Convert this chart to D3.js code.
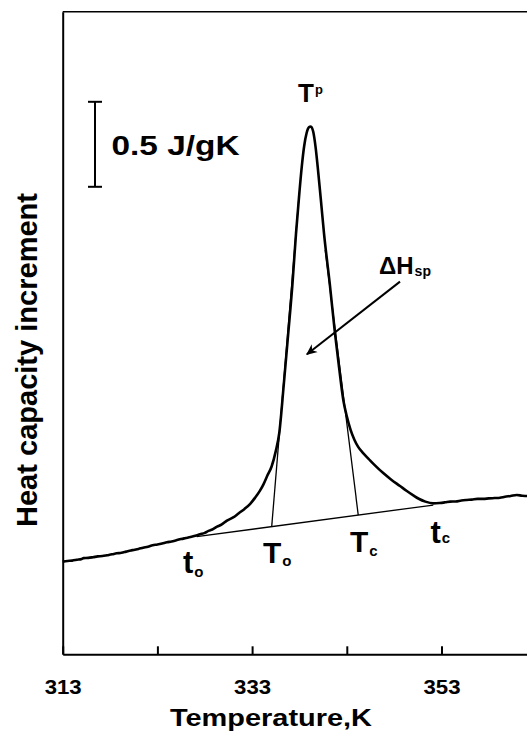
<!DOCTYPE html>
<html>
<head>
<meta charset="utf-8">
<script src="https://cdn.jsdelivr.net/npm/d3@7"></script>
<style>
  html, body { margin: 0; padding: 0; background: #fff; }
  svg { display: block; }
  text { font-family: "Liberation Sans", Arial, Helvetica, sans-serif; font-weight: bold; fill: #000; }
</style>
</head>
<body>
<div id="chart"></div>
<script>
// DSC trace: heat capacity increment (J/gK) versus temperature (K)
const temperature = [
  313.0, 313.5, 314.0, 314.5, 315.0, 315.2, 315.7, 316.2, 316.7, 317.2,
  317.7, 318.2, 318.7, 319.2, 319.7, 320.2, 320.5, 321.0, 321.5, 322.0,
  322.5, 323.0, 323.5, 324.0, 324.5, 325.0, 325.5, 326.0, 326.5, 327.0,
  327.5, 328.0, 328.4, 328.8, 329.3, 329.8, 330.3, 331.0, 331.6, 332.2,
  332.8, 333.3, 333.8, 334.2, 334.6, 335.07, 335.5, 335.87, 336.35, 336.82,
  337.25, 337.64, 338.0, 338.24, 338.5, 338.75, 339.0, 339.2, 339.45, 339.7,
  339.93, 340.25, 340.59, 341.2, 341.75, 342.2, 342.63, 343.0, 343.4, 343.8,
  344.2, 344.7, 345.3, 346.0, 346.85, 347.7, 348.62, 349.3, 350.02, 350.6,
  351.3, 352.13, 352.8, 353.4, 353.9, 354.5, 355.1, 355.66, 356.2, 356.8,
  357.41, 358.0, 358.6, 359.18, 359.7, 360.3, 360.94, 361.5, 362.0, 362.6
];
const heatCapacity = [
  0.545, 0.549, 0.551, 0.556, 0.561, 0.566, 0.567, 0.571, 0.576, 0.578,
  0.583, 0.588, 0.594, 0.597, 0.604, 0.611, 0.614, 0.620, 0.627, 0.633,
  0.641, 0.646, 0.652, 0.659, 0.664, 0.671, 0.678, 0.684, 0.690, 0.697,
  0.706, 0.714, 0.726, 0.734, 0.751, 0.764, 0.785, 0.805, 0.830, 0.855,
  0.885, 0.920, 0.960, 1.000, 1.050, 1.106, 1.195, 1.302, 1.590, 1.890,
  2.170, 2.478, 2.720, 2.866, 2.990, 3.065, 3.100, 3.105, 3.075, 2.985,
  2.866, 2.680, 2.478, 2.180, 1.890, 1.680, 1.496, 1.400, 1.320, 1.262,
  1.220, 1.185, 1.150, 1.110, 1.066, 1.027, 0.990, 0.962, 0.935, 0.915,
  0.898, 0.888, 0.890, 0.894, 0.898, 0.899, 0.905, 0.908, 0.910, 0.914,
  0.914, 0.917, 0.919, 0.921, 0.927, 0.931, 0.937, 0.933, 0.931, 0.934
];

// Interpolated baseline between the onset (t_o) and completion (t_c) points
const baselineT = [327.15, 352.13];
const baselineV = [0.692, 0.878];
// Inflection tangents meeting the baseline at T_o and T_c
const onsetTangentT = [335.07, 337.92];
const onsetTangentV = [0.751, 2.672];
const endTangentT = [344.21, 340.72];
const endTangentV = [0.819, 2.378];

// Axis ticks
const tickValues = [313, 323, 333, 343, 353];
const tickLabels = ["313", "", "333", "", "353"];

// Scale bar size and the enthalpy arrow
const scaleBarT = 316.41;
const scaleBarV = [2.75, 3.25];
const scaleBarLabel = "0.5 J/gK";
const arrowT = [348.62, 338.79];
const arrowV = [2.192, 1.765];

const W = 527, H = 739;
const svg = d3.select("#chart").append("svg")
  .attr("width", W).attr("height", H);

const x = d3.scaleLinear().domain([313, 363]).range([62.7, 536.2]);
const y = d3.scaleLinear().domain([0, 3.78]).range([654.3, 11.7]);

// Frame: top edge
svg.append("line")
  .attr("x1", x(313)).attr("x2", x(363))
  .attr("y1", y(3.78)).attr("y2", y(3.78))
  .attr("stroke", "#000").attr("stroke-width", 1.5);

// Bottom axis with inward ticks
const xAxis = d3.axisBottom(x)
  .tickValues(tickValues)
  .tickSizeInner(-8)
  .tickSizeOuter(0)
  .tickFormat((d, i) => tickLabels[i]);
const gx = svg.append("g")
  .attr("transform", `translate(0,${y(0)})`)
  .call(xAxis);
gx.select(".domain").attr("stroke", "#000").attr("stroke-width", 2);
gx.selectAll(".tick line").attr("stroke", "#000").attr("stroke-width", 2);
gx.selectAll(".tick text")
  .attr("y", 40).attr("dy", 0)
  .attr("font-size", 19.5)
  .attr("font-family", null)
  .attr("fill", "#000")
  .each(function () {
    if (this.textContent) d3.select(this).attr("textLength", 37).attr("lengthAdjust", "spacingAndGlyphs");
  });

// Left axis, no ticks
const yAxis = d3.axisLeft(y).tickValues([]).tickSizeOuter(0);
const gy = svg.append("g")
  .attr("transform", `translate(${x(313)},0)`)
  .call(yAxis);
gy.select(".domain").attr("stroke", "#000").attr("stroke-width", 2);

// Axis titles
svg.append("text")
  .attr("x", 271).attr("y", 726)
  .attr("text-anchor", "middle")
  .attr("font-size", 24)
  .attr("textLength", 202).attr("lengthAdjust", "spacingAndGlyphs")
  .text("Temperature,K");

svg.append("text")
  .attr("transform", "translate(37,360) rotate(-90)")
  .attr("text-anchor", "middle")
  .attr("font-size", 29)
  .attr("textLength", 334).attr("lengthAdjust", "spacingAndGlyphs")
  .text("Heat capacity increment");

// Baseline and tangents
const seg = (ts, vs) => d3.line()(ts.map((t, i) => [x(t), y(vs[i])]));
svg.append("path").attr("d", seg(baselineT, baselineV))
  .attr("fill", "none").attr("stroke", "#000").attr("stroke-width", 1.3);
svg.append("path").attr("d", seg(onsetTangentT, onsetTangentV))
  .attr("fill", "none").attr("stroke", "#000").attr("stroke-width", 1.3);
svg.append("path").attr("d", seg(endTangentT, endTangentV))
  .attr("fill", "none").attr("stroke", "#000").attr("stroke-width", 1.3);

// Measured trace
const trace = d3.line()
  .x((d, i) => x(temperature[i]))
  .y((d, i) => y(heatCapacity[i]))
  .curve(d3.curveMonotoneX);
svg.append("path")
  .attr("d", trace(temperature))
  .attr("fill", "none")
  .attr("stroke", "#000")
  .attr("stroke-width", 2.6)
  .attr("stroke-linejoin", "round");

// Scale bar
const sbx = x(scaleBarT);
svg.append("line")
  .attr("x1", sbx).attr("x2", sbx)
  .attr("y1", y(scaleBarV[0])).attr("y2", y(scaleBarV[1]))
  .attr("stroke", "#000").attr("stroke-width", 2);
scaleBarV.forEach(v => {
  svg.append("line")
    .attr("x1", sbx - 7).attr("x2", sbx + 7)
    .attr("y1", y(v)).attr("y2", y(v))
    .attr("stroke", "#000").attr("stroke-width", 2);
});
svg.append("text")
  .attr("x", 111.5).attr("y", 154.5)
  .attr("font-size", 28)
  .attr("textLength", 128).attr("lengthAdjust", "spacingAndGlyphs")
  .text(scaleBarLabel);

// Arrow to the transition enthalpy area
svg.append("defs").append("marker")
  .attr("id", "head")
  .attr("viewBox", "0 -5 10 10")
  .attr("refX", 9).attr("refY", 0)
  .attr("markerWidth", 11).attr("markerHeight", 11)
  .attr("markerUnits", "userSpaceOnUse")
  .attr("orient", "auto")
  .append("path").attr("d", "M0,-4.5L10,0L0,4.5L3,0Z").attr("fill", "#000");
svg.append("path")
  .attr("d", seg(arrowT, arrowV))
  .attr("stroke", "#000").attr("stroke-width", 2)
  .attr("marker-end", "url(#head)");

// Labels with sub/superscripts
function label(xp, yp, main, mainSize, sub, subSize, subDy) {
  const t = svg.append("text").attr("x", xp).attr("y", yp).attr("font-size", mainSize);
  t.append("tspan").text(main);
  t.append("tspan").attr("font-size", subSize).attr("dy", subDy).attr("dx", 1).text(sub);
  return t;
}
label(298, 102, "T", 26, "p", 13, -8);
label(379, 273.5, "\u0394H", 24, "sp", 14, 2);
label(263, 562.7, "T", 30, "o", 15, 3.5);
label(350, 551.7, "T", 30, "c", 15, 4);
label(183, 572.7, "t", 31, "o", 15, 4.5);
label(430.5, 543.3, "t", 31, "c", 15, 0);
</script>
</body>
</html>
